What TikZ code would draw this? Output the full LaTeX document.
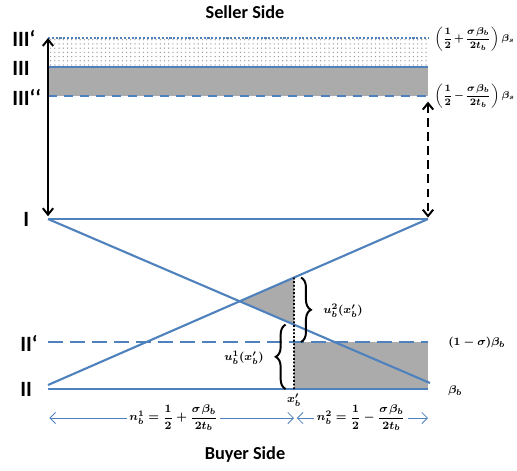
\documentclass[tikz,border=0pt]{standalone}
\usepackage{fontspec}
\setmainfont{Carlito}
\usepackage{amsmath}
\usetikzlibrary{arrows.meta,patterns,decorations.pathreplacing}
\definecolor{lineblue}{RGB}{79,129,189}
\newcommand{\sellershare}[1]{$\medmuskip=2mu\relax\displaystyle\left(\frac{1}{2}#1\frac{\sigma\mkern2mu\beta_b}{2t_b}\right)\beta_s$}

\begin{document}
\begin{tikzpicture}[
    x=0.025cm, y=-0.025cm,
    >={Straight Barb[length=1.6mm,width=2.6mm]},
    level/.style={draw=lineblue, line width=1.5pt},
    levellabel/.style={anchor=west, font=\bfseries\fontsize{15.5}{16}\selectfont, inner sep=0pt},
    sidelabel/.style={font=\bfseries\fontsize{13}{14}\selectfont},
    mathlabel/.style={font=\fontsize{8}{9}\selectfont\boldmath, inner sep=0pt},
    sellerlabel/.style={anchor=west, inner sep=0pt, font=\fontsize{7.2}{8}\selectfont\boldmath},
    arrowv/.style={<->, line width=1.4pt},
    span/.style={<->, draw=lineblue, line width=0.6pt, >={Straight Barb[length=1.4mm,width=2.8mm]}},
    spanlabel/.style={fill=white, font=\fontsize{8}{9}\selectfont\boldmath, inner sep=2pt},
    bracket/.style={decorate, decoration={brace, amplitude=7pt}, line width=1.4pt},
    shade/.style={fill=black!33}
  ]
  \useasboundingbox (0,0) rectangle (517,470);

  \coordinate (IIIpL) at (48,38);   \coordinate (IIIpR) at (428,38);
  \coordinate (IIIL) at (48,67);    \coordinate (IIIR) at (428,67);
  \coordinate (IIIppL) at (48,96);  \coordinate (IIIppR) at (428,96);
  \coordinate (IL) at (48,219);     \coordinate (IR) at (428,219);
  \coordinate (IIpL) at (48,342);   \coordinate (IIpR) at (428,342);
  \coordinate (IIL) at (48,389);    \coordinate (IIR) at (428,389);
  \coordinate (lowL) at (48,385);   \coordinate (lowR) at (430,383);
  \coordinate (xb) at (294,389);    \coordinate (xbsky) at (294,250);
  \coordinate (cross) at (intersection of IL--lowR and lowL--IR);
  \coordinate (xbhi) at (intersection of xb--xbsky and lowL--IR);
  \coordinate (xbmid) at (intersection of xb--xbsky and IL--lowR);
  \coordinate (spanL) at (48,418);  \coordinate (spanM) at (294,418);
  \coordinate (spanR) at (428,418);

  \fill[pattern=dots, pattern color=gray!80] (IIIpL) rectangle (IIIR);
  \fill[shade] (IIIL) rectangle (IIIppR);
  \fill[shade] (cross) -- (xbhi) -- (xbmid) -- cycle;
  \fill[shade] (xb |- IIpL) rectangle (IIR);

  \draw[level, dash pattern=on 1.5pt off 1.2pt] (IIIpL) -- (IIIpR);
  \draw[level] (IIIL) -- (IIIR);
  \draw[level, dash pattern=on 6.4pt off 5pt] (IIIppL) -- (IIIppR);
  \draw[level] (IL) -- (IR);
  \draw[level, dash pattern=on 10.6pt off 5pt] (IIpL) -- (IIpR);
  \draw[level] (IIL) -- (IIR);
  \draw[level] (IL) -- (lowR);
  \draw[level] (lowL) -- (IR);

  \draw[line width=1.3pt, dash pattern=on 1.3pt off 1.3pt] (xbhi) -- (xb);

  \draw[arrowv] (IIIpL) -- ([yshift=2pt]IL);
  \draw[arrowv, dash pattern=on 6pt off 4pt] ([yshift=-4pt]IIIppR) -- ([yshift=1pt]IR);

  \draw[bracket] ([xshift=5pt]xbhi) -- ([xshift=5pt]xb |- IIpL);
  \draw[bracket] ([xshift=-6pt]xb) -- ([xshift=-6pt]xbmid);

  \draw[span, shorten >=1pt] (spanM) -- node[spanlabel, pos=0.49] (n1) {$n_b^1=\dfrac{1}{2}+\dfrac{\sigma\mkern2mu\beta_b}{2t_b}$} (spanL);
  \draw[span, shorten <=2pt] (spanM) -- node[spanlabel] (n2) {$n_b^2=\dfrac{1}{2}-\dfrac{\sigma\mkern2mu\beta_b}{2t_b}$} (spanR);

  \node[sidelabel] (seller) at (245,12) {Seller Side};
  \node[sidelabel] (buyer) at (245,455) {Buyer Side};

  \node[levellabel] (lIIIp) at (12,38) {III‘};
  \node[levellabel] (lIII) at (12,68) {III};
  \node[levellabel] (lIIIpp) at (12,97) {III‘‘};
  \node[levellabel] (lI) at (23,219) {I};
  \node[levellabel] (lIIp) at (20,343) {II‘};
  \node[levellabel] (lII) at (20,389) {II};

  \node[sellerlabel] (rIIIp) at (434,39) {\sellershare{+}};
  \node[sellerlabel] (rIIIpp) at (434,96) {\sellershare{-}};
  \node[mathlabel, anchor=west] (rIIp) at (448,343) {$(1-\sigma)\beta_b$};
  \node[mathlabel, anchor=west] (rII) at (448,391) {$\beta_b$};

  \node[mathlabel, anchor=west] (u2) at (323,311) {$u_b^2(x'_b)$};
  \node[mathlabel, anchor=east] (u1) at (264,358) {$u_b^1(x'_b)$};
  \node[mathlabel, anchor=north] (xblabel) at (294,394) {$x'_b$};
\end{tikzpicture}
\end{document}
